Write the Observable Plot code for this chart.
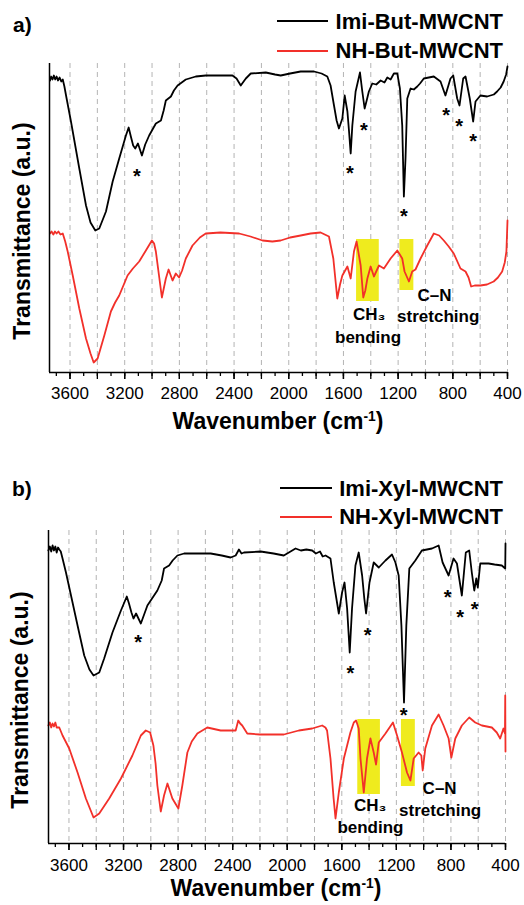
<!DOCTYPE html>
<html><head><meta charset="utf-8">
<script src="https://cdn.jsdelivr.net/npm/d3@7"></script>
<script src="https://cdn.jsdelivr.net/npm/@observablehq/plot@0.6"></script>
<style>
body{margin:0;background:#fff;}
#wrap{position:relative;width:524px;height:905px;overflow:hidden;font-family:"Liberation Sans",Arial,sans-serif;color:#000;background:#fff;}
.t{position:absolute;white-space:nowrap;line-height:1;font-weight:bold;}
.sup{position:relative;top:-0.55em;font-size:0.6em;line-height:0;}
.plot{position:absolute;left:0;}
.ln{position:absolute;height:2px;}
</style></head><body><div id="wrap"></div>
<script>
// ---- data: [wavenumber cm-1, transmittance a.u.] ----
const imiBut = [[3746,292],[3738,296],[3728,293],[3718,297],[3708,293],[3698,296],[3688,292],[3676,295],[3664,291],[3653,293],[3641,286],[3629,277],[3593,251],[3532,204],[3483,167],[3450,150],[3415,142],[3386,144],[3337,161],[3288,191],[3240,214],[3191,237],[3171,245],[3155,236],[3138,227],[3123,224],[3103,229],[3074,217],[3050,228],[3021,237],[2972,249],[2935,252],[2915,262],[2899,272],[2862,276],[2840,282],[2813,287],[2753,293],[2680,296],[2607,297],[2500,297],[2412,297],[2382,294],[2351,287],[2330,291],[2314,294],[2278,299],[2168,300],[2100,298],[2059,297],[1990,299],[1913,301],[1815,301],[1760,299],[1718,296],[1694,287],[1669,267],[1650,252],[1633,244],[1608,254],[1591,277],[1571,261],[1559,241],[1547,219],[1535,247],[1511,281],[1479,300],[1462,281],[1445,264],[1430,272],[1414,281],[1389,289],[1360,288],[1328,292],[1300,290],[1279,295],[1255,293],[1231,299],[1206,299],[1187,284],[1170,247],[1158,176],[1146,214],[1133,274],[1109,284],[1085,283],[1060,286],[1040,289],[1012,294],[939,296],[890,291],[854,277],[817,294],[797,297],[768,274],[751,267],[724,294],[707,296],[676,274],[651,251],[634,271],[598,277],[549,276],[500,278],[476,281],[450,285],[428,291],[410,298],[400,306]];
const nhBut = [[3746,139],[3735,141],[3722,138],[3710,141],[3698,139],[3685,141],[3670,138],[3653,139],[3635,131],[3617,121],[3580,97],[3532,64],[3483,34],[3450,19],[3427,10],[3398,14],[3349,37],[3301,61],[3270,70],[3240,77],[3179,97],[3140,104],[3094,111],[3045,122],[3001,132],[2985,129],[2972,121],[2950,98],[2928,75],[2899,94],[2879,103],[2850,92],[2826,99],[2802,95],[2780,102],[2753,114],[2704,127],[2650,135],[2607,139],[2500,140],[2363,139],[2280,136],[2192,132],[2120,131],[2059,132],[1990,135],[1913,137],[1840,139],[1767,140],[1706,136],[1674,114],[1645,74],[1625,88],[1608,97],[1571,106],[1547,94],[1523,121],[1504,131],[1474,107],[1455,75],[1440,82],[1425,94],[1401,106],[1377,96],[1340,107],[1304,104],[1255,114],[1206,122],[1170,114],[1153,101],[1121,91],[1097,101],[1073,103],[1036,114],[987,127],[939,139],[900,137],[866,132],[830,126],[793,119],[744,104],[707,101],[685,95],[666,86],[640,87],[598,87],[550,88],[501,91],[470,95],[439,101],[420,110],[408,121],[400,152]];
const imiXyl = [[3751,293],[3740,297],[3730,292],[3720,298],[3710,293],[3700,297],[3690,291],[3680,296],[3671,294],[3660,292],[3647,285],[3622,271],[3585,248],[3537,218],[3488,188],[3450,174],[3420,168],[3378,171],[3342,185],[3281,211],[3219,233],[3176,247],[3160,240],[3142,231],[3127,225],[3108,230],[3073,220],[3025,238],[2952,253],[2920,263],[2903,275],[2866,278],[2840,283],[2805,288],[2756,290],[2650,290],[2561,290],[2480,288],[2415,286],[2378,288],[2354,294],[2335,290],[2317,291],[2195,292],[2100,290],[2025,288],[1939,295],[1900,293],[1860,294],[1817,293],[1790,290],[1760,292],[1740,287],[1719,288],[1683,285],[1659,261],[1622,230],[1598,251],[1580,261],[1561,235],[1542,191],[1525,235],[1500,278],[1476,291],[1451,268],[1435,245],[1422,230],[1397,261],[1366,281],[1329,276],[1280,283],[1232,289],[1207,281],[1183,268],[1163,218],[1144,141],[1127,218],[1105,275],[1061,283],[1013,293],[939,295],[890,298],[861,281],[817,268],[781,285],[756,280],[720,248],[691,291],[666,293],[647,271],[629,253],[614,265],[603,256],[585,280],[524,280],[480,279],[427,278],[402,275],[400,300]];
const nhXyl = [[3751,118],[3740,121],[3730,116],[3720,120],[3710,117],[3700,121],[3690,116],[3671,116],[3647,108],[3598,95],[3537,71],[3476,45],[3420,26],[3378,30],[3305,45],[3219,65],[3135,88],[3073,108],[3037,113],[3005,111],[2981,98],[2965,80],[2952,58],[2927,32],[2903,48],[2878,60],[2842,45],[2798,35],[2769,58],[2732,91],[2700,102],[2659,110],[2586,116],[2488,113],[2378,113],[2359,123],[2345,120],[2330,118],[2293,110],[2200,109],[2100,109],[2025,109],[1915,113],[1817,115],[1744,118],[1720,116],[1708,113],[1683,85],[1660,45],[1646,25],[1622,51],[1585,85],[1561,98],[1537,111],[1512,121],[1495,123],[1476,115],[1463,85],[1439,51],[1415,85],[1390,105],[1366,91],[1349,79],[1329,101],[1280,110],[1225,121],[1195,108],[1159,91],[1122,71],[1097,63],[1073,85],[1037,91],[1017,88],[1007,73],[988,95],[939,118],[890,129],[854,118],[817,105],[797,86],[768,105],[720,118],[666,126],[622,121],[573,118],[500,116],[464,111],[439,105],[415,115],[404,110],[402,148],[400,92]];

// highlighted bands: [wn1, wn2, t1, t2]
const boxesA = [[1504,1338,71,133],[1187,1085,82,133]];
const boxesB = [[1483,1317,49,124],[1163,1061,57,124]];
// asterisk marks
const starsA = [[3111,201],[1553,204],[1450,247],[1158,161],[849,262],[754,251],[651,236]];
const starsB = [[3093,206],[1537,175],[1410,213],[1146,133],[825,251],[732,231],[627,239]];
// annotations
const notesA = [["CH₃",1412,58],["bending",1420,35],["C–N",934,77],["stretching",907,56]];
const notesB = [["CH₃",1392,38],["bending",1390,16],["C–N",883,55],["stretching",879,33]];

const xDomain = [3750, 400];
const labelTicks = [3600,3200,2800,2400,2000,1600,1200,800,400];
const majorTicks = [3600,3400,3200,3000,2800,2600,2400,2200,2000,1800,1600,1400,1200,1000,800,600,400];
const minorTicks = [3700,3600,3500,3400,3300,3200,3100,3000,2900,2800,2700,2600,2500,2400,2300,2200,2100,2000,1900,1800,1700,1600,1500,1400,1300,1200,1100,1000,900,800,700,600,500,400];

const legendA = ["Imi-But-MWCNT","NH-But-MWCNT"];
const legendB = ["Imi-Xyl-MWCNT","NH-Xyl-MWCNT"];

const FONT = '"Liberation Sans", Arial, sans-serif';
const RED = "#f2302a";
const wrap = document.getElementById("wrap");

function panel(o) {
  const p = Plot.plot({
    width: 524, height: 430,
    marginTop: 63, marginBottom: o.mb, marginLeft: o.ml, marginRight: o.mr,
    x: {domain: xDomain, axis: null},
    y: {domain: [0, o.ymax], axis: null},
    style: {fontFamily: FONT, fontSize: "17px", background: "transparent", overflow: "visible", color: "#000"},
    marks: [
      Plot.gridX(majorTicks, {stroke: "#b4b4b4", strokeOpacity: 1, strokeDasharray: "5,4", strokeWidth: 1}),
      Plot.rect(o.boxes, {x1: d => d[0], x2: d => d[1], y1: d => d[2], y2: d => d[3], fill: "#efeb1e"}),
      Plot.line(o.black, {x: d => d[0], y: d => d[1], stroke: "#000", strokeWidth: 1.8}),
      Plot.line(o.red, {x: d => d[0], y: d => d[1], stroke: RED, strokeWidth: 1.8}),
      Plot.text(o.stars, {x: d => d[0], y: d => d[1], text: () => "*", fontSize: 20, fontWeight: "bold", dy: 5, fill: "#000"}),
      Plot.text(o.notes, {x: d => d[1], y: d => d[2], text: d => d[0], fontSize: 17, fontWeight: "bold", fill: "#000"}),
      Plot.ruleX([xDomain[0]], {stroke: "#000", strokeWidth: 1.5}),
      Plot.ruleY([0], {stroke: "#000", strokeWidth: 1.5}),
      Plot.axisX(minorTicks, {tickSize: 4, tickFormat: () => "", strokeWidth: 1.3, label: null}),
      Plot.axisX(majorTicks, {tickSize: 7, tickFormat: () => "", strokeWidth: 1.3, label: null}),
      Plot.axisX(labelTicks, {tickSize: 7, tickPadding: o.tp, tickFormat: d3.format("d"), fontSize: 17, strokeWidth: 1.3, label: null})
    ]
  });
  p.classList.add("plot");
  p.style.top = o.top + "px";
  wrap.appendChild(p);

  const add = (html, css) => { const d = document.createElement("div"); d.className = "t"; d.innerHTML = html; Object.assign(d.style, css); wrap.appendChild(d); return d; };
  add(o.tag, {left: o.tagX + "px", top: (o.tagY - 21*0.49) + "px", fontSize: "21px"});
  o.legend.forEach((name, i) => {
    add(name, {right: "21px", top: (o.legY[i] - 22*0.49) + "px", fontSize: "22px"});
    const l = document.createElement("div"); l.className = "ln";
    Object.assign(l.style, {left: o.lineX + "px", width: o.lineW + "px", top: (o.legY[i] - 1) + "px", background: i ? RED : "#000"});
    wrap.appendChild(l);
  });
  add("Transmittance (a.u.)", {left: o.yl[0] + "px", top: o.yl[1] + "px", fontSize: "23px", transform: "translate(-50%,-50%) rotate(-90deg)"});
  add('Wavenumber (cm<span class="sup">-1</span>)', {left: o.xl[0] + "px", top: o.xl[1] + "px", fontSize: "23px", transform: "translate(-50%,-50%)"});
}

panel({top: 0, mb: 58, ml: 49, mr: 17, ymax: 309, tp: 7, black: imiBut, red: nhBut, boxes: boxesA, stars: starsA, notes: notesA,
  tag: "a)", tagX: 13, tagY: 24.5, legend: legendA, legY: [21.3, 51], lineX: 277, lineW: 51, yl: [21.5, 231], xl: [278, 420.5]});
panel({top: 467, mb: 54, ml: 48, mr: 19, ymax: 313, tp: 8, black: imiXyl, red: nhXyl, boxes: boxesB, stars: starsB, notes: notesB,
  tag: "b)", tagX: 12, tagY: 488, legend: legendB, legY: [488.3, 516.7], lineX: 280, lineW: 52, yl: [20, 700], xl: [276, 887.5]});
</script></body></html>
